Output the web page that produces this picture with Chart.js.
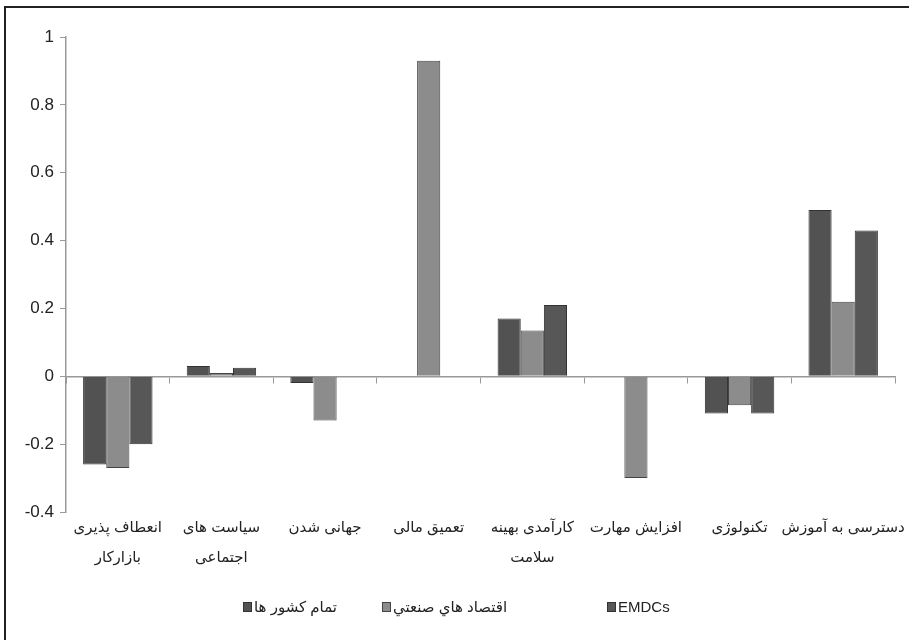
<!DOCTYPE html>
<html>
<head>
<meta charset="utf-8">
<script src="https://cdn.jsdelivr.net/npm/chart.js@4.4.1/dist/chart.umd.min.js"></script>
<style>
  body { margin: 0; background: #fff; }
  #wrap { position: relative; width: 909px; height: 640px; }
  #frame { position: absolute; left: 4px; top: 6px; right: 0; bottom: 0;
           border-left: 2px solid #222; border-top: 2px solid #222; pointer-events: none; }
  canvas { position: absolute; left: 0; top: 0; }
</style>
</head>
<body>
<div id="wrap">
  <canvas id="grafico" width="909" height="640"></canvas>
  <div id="frame"></div>
</div>
<script>
// categorias (esquerda -> direita)
const categorias = [
  ["انعطاف پذیری", "بازارکار"],
  ["سیاست های", "اجتماعی"],
  "جهانی شدن",
  "تعمیق مالی",
  ["کارآمدی بهینه", "سلامت"],
  "افزایش مهارت",
  "تکنولوژی",
  "دسترسی به آموزش"
];

const nomesSeries = ["تمام کشور ها", "اقتصاد هاي صنعتي", "EMDCs"];

const todosPaises = [-0.26, 0.03, -0.02, 0, 0.17, 0, -0.11, 0.49];
const industriais = [-0.27, 0.01, -0.13, 0.93, 0.135, -0.30, -0.085, 0.22];
const emdcs       = [-0.20, 0.025, 0, 0, 0.21, 0, -0.11, 0.43];

const yTicks = [-0.4, -0.2, 0, 0.2, 0.4, 0.6, 0.8, 1];

const fonte = "'Liberation Sans', 'DejaVu Sans', Arial, sans-serif";

// legenda desenhada à mão (espaçamento desigual como no original)
const legendaX = [243, 382, 607];
const legendaManual = {
  id: 'legendaManual',
  afterDraw(chart) {
    const c = chart.ctx;
    c.save();
    c.font = `15px ${fonte}`;
    c.textBaseline = 'middle';
    c.textAlign = 'left';
    chart.data.datasets.forEach((ds, i) => {
      const x = legendaX[i], y = 607;
      c.fillStyle = ds.backgroundColor;
      c.strokeStyle = ds.borderColor;
      c.lineWidth = 1;
      c.fillRect(x, y - 5, 9, 10);
      c.strokeRect(x + 0.5, y - 4.5, 8, 9);
      c.fillStyle = '#222';
      c.fillText(ds.label, x + 11, y + 1);
    });
    c.restore();
  }
};

const ctx = document.getElementById('grafico').getContext('2d');
const grafico = new Chart(ctx, {
  type: 'bar',
  data: {
    labels: categorias,
    datasets: [
      { label: nomesSeries[0], data: todosPaises, backgroundColor: '#525252', borderColor: '#333', borderWidth: 1 },
      { label: nomesSeries[1], data: industriais, backgroundColor: '#8c8c8c', borderColor: '#444', borderWidth: 1 },
      { label: nomesSeries[2], data: emdcs,       backgroundColor: '#575757', borderColor: '#333', borderWidth: 1 }
    ]
  },
  plugins: [legendaManual],
  options: {
    responsive: false,
    animation: false,
    layout: { padding: { left: 0, right: 14, top: 37, bottom: 68 } },
    datasets: { bar: { categoryPercentage: 0.67, barPercentage: 1.0 } },
    plugins: {
      tooltip: { enabled: false },
      legend: { display: false }
    },
    scales: {
      x: {
        grid: { display: false },
        border: { display: false },
        ticks: {
          font: { family: fonte, size: 15, lineHeight: 2 },
          color: '#222',
          maxRotation: 0,
          autoSkip: false,
          padding: -7
        },
        afterFit: s => { s.height = 60; }
      },
      eixoZero: {
        type: 'category',
        axis: 'x',
        labels: categorias,
        position: { y: 0 },
        offset: true,
        grid: { display: true, drawOnChartArea: false, offset: true, tickLength: 6, color: '#999' },
        border: { display: true, color: '#999', width: 1.5 },
        ticks: { display: false }
      },
      y: {
        min: -0.4,
        max: 1,
        afterBuildTicks: s => { s.ticks = yTicks.map(v => ({ value: v })); },
        grid: { drawOnChartArea: false, tickLength: 6, color: '#999' },
        border: { color: '#999', width: 1.5 },
        ticks: {
          font: { family: fonte, size: 17 },
          color: '#222',
          padding: 6,
          callback: v => String(+v.toFixed(1))
        },
        afterFit: s => { s.width = 66; }
      }
    }
  }
});
</script>
</body>
</html>
